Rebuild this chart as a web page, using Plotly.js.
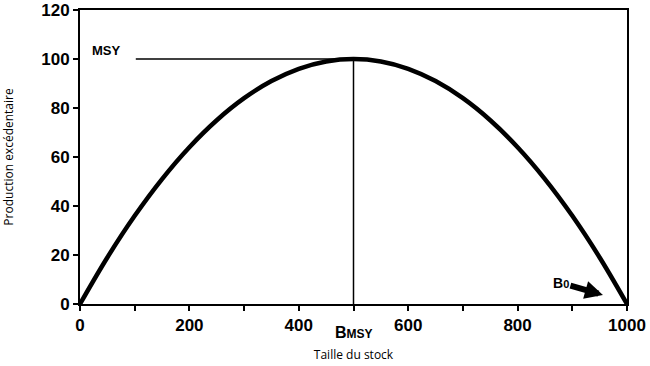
<!DOCTYPE html>
<html>
<head>
<meta charset="utf-8">
<script src="https://cdn.plot.ly/plotly-3.0.1.min.js"></script>
<style>html,body{margin:0;padding:0;background:#fff;}#chart{width:650px;height:366px;}</style>
</head>
<body>
<div id="chart"></div>
<script>
// Data
const stock = [0, 50, 100, 150, 200, 250, 300, 350, 400, 450, 500, 550, 600, 650, 700, 750, 800, 850, 900, 950, 1000];
const production = [0, 19, 36, 51, 64, 75, 84, 91, 96, 99, 100, 99, 96, 91, 84, 75, 64, 51, 36, 19, 0];
const msyValue = 100;
const bmsyValue = 500;
const msyLineX = [102, bmsyValue];
const xTickVals = [0, 200, 400, 600, 800, 1000];
const yTickVals = [0, 20, 40, 60, 80, 100, 120];
const b0Tip = [956, 3.7];

const tickFont = {family: 'Liberation Sans, Arial, sans-serif', size: 17, weight: 'bold', color: '#000'};
const titleFont = {family: 'Open Sans, DejaVu Sans, sans-serif', size: 12, color: '#000'};

const traces = [
  {x: stock, y: production, mode: 'lines', line: {color: '#000', width: 4.5, shape: 'spline'}, hoverinfo: 'skip'},
  {x: msyLineX, y: [msyValue, msyValue], mode: 'lines', line: {color: '#000', width: 1.5}, hoverinfo: 'skip'},
  {x: [bmsyValue, bmsyValue], y: [0, msyValue], mode: 'lines', line: {color: '#000', width: 1.5}, hoverinfo: 'skip'}
];

const layout = {
  width: 650, height: 366,
  margin: {l: 80, r: 23, t: 10, b: 62},
  paper_bgcolor: '#fff', plot_bgcolor: '#fff',
  showlegend: false,
  xaxis: {
    range: [0, 1000], showgrid: false, zeroline: false,
    showline: true, linecolor: '#000', linewidth: 2, mirror: true,
    ticks: 'outside', ticklen: 5, tickwidth: 2, tickcolor: '#000',
    tickmode: 'array', tickvals: xTickVals, ticktext: xTickVals.map(String),
    minor: {dtick: 100, ticks: 'outside', ticklen: 5, tickwidth: 2, tickcolor: '#000', showgrid: false},
    tickfont: tickFont,
    title: {text: 'Taille du stock', font: titleFont, standoff: 16}
  },
  yaxis: {
    range: [0, 120], showgrid: false, zeroline: false,
    showline: true, linecolor: '#000', linewidth: 2, mirror: true,
    ticks: 'outside', ticklen: 5, tickwidth: 2, tickcolor: '#000',
    tickmode: 'array', tickvals: yTickVals, ticktext: yTickVals.map(String),
    tickfont: tickFont,
    title: {text: 'Production excédentaire', font: titleFont, standoff: 26}
  },
  annotations: [
    {x: 48, y: 103.5, xref: 'x', yref: 'y', text: '<b>MSY</b>', showarrow: false,
     font: {family: 'Liberation Sans, Arial, sans-serif', size: 13, color: '#000'}},
    {x: bmsyValue, y: 0, xref: 'x', yref: 'y', yshift: -28, xshift: 0,
     text: '<b>B<span style="font-size:12px">MSY</span></b>', showarrow: false,
     font: {family: 'Liberation Sans, Arial, sans-serif', size: 16, color: '#000'}},
    {x: b0Tip[0], y: b0Tip[1], xref: 'x', yref: 'y', ax: -42, ay: -12,
     text: '<b>B<span style="font-size:11px">0</span></b>', showarrow: true,
     arrowhead: 2, arrowsize: 0.6, arrowwidth: 6, arrowcolor: '#000',
     font: {family: 'Liberation Sans, Arial, sans-serif', size: 14, color: '#000'}}
  ]
};

Plotly.newPlot('chart', traces, layout, {displayModeBar: false, staticPlot: true});
</script>
</body>
</html>
